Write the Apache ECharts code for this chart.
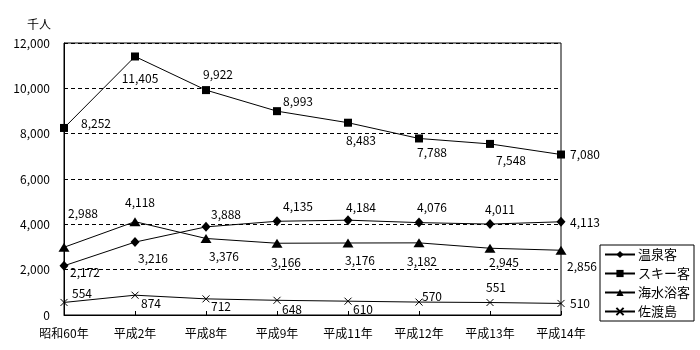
<!DOCTYPE html>
<html>
<head>
<meta charset="utf-8">
<script src="https://cdn.jsdelivr.net/npm/echarts@6/dist/echarts.min.js"></script>
<style>
  html, body { margin: 0; padding: 0; background: #fff; }
  #chart { width: 700px; height: 350px; }
</style>
</head>
<body>
<div id="chart"></div>
<script>
// 年別の観光客数（千人）
const categories = ['昭和60年', '平成2年', '平成8年', '平成9年', '平成11年', '平成12年', '平成13年', '平成14年'];
const onsen   = [2172, 3216, 3888, 4135, 4184, 4076, 4011, 4113];   // 温泉客
const ski     = [8252, 11405, 9922, 8993, 8483, 7788, 7548, 7080];  // スキー客
const kaisui  = [2988, 4118, 3376, 3166, 3176, 3182, 2945, 2856];   // 海水浴客
const sado    = [554, 874, 712, 648, 610, 570, 551, 510];           // 佐渡島
const yTicks  = [0, 2000, 4000, 6000, 8000, 10000, 12000];
const unitLabel = '千人';

// ラベルの位置調整（点の中心からのずれ, px）
const offOnsen  = [[21,7],[18,16],[20,-12],[21,-15],[13,-13],[13,-15],[10,-15],[24,1]];
const offSki    = [[32,-5],[5,22],[12,-16],[21,-10],[13,18],[13,14],[21,17],[24,0]];
const offKaisui = [[19,-34],[5,-19],[18,18],[9,19],[12,17],[3,19],[14,14],[21,16]];
const offSado   = [[18,-9],[16,8],[15,8],[15,9],[15,8],[13,-6],[6,-15],[19,0]];

const FONT = '"Noto Sans CJK JP", "DejaVu Sans", sans-serif';
const fmt = v => v.toLocaleString('en-US');

function withLabels(values, offsets) {
  return values.map((v, i) => ({
    value: v,
    label: { offset: offsets[i] }
  }));
}

function makeSeries(name, values, offsets, symbol, size, extra) {
  return Object.assign({
    name: name,
    type: 'line',
    data: withLabels(values, offsets),
    symbol: symbol,
    symbolSize: size,
    showAllSymbol: true,
    lineStyle: { color: '#000', width: 1 },
    itemStyle: { color: '#000' },
    emphasis: { disabled: true },
    animation: false,
    label: {
      show: true,
      position: 'inside',
      color: '#000',
      fontFamily: FONT,
      fontSize: 12,
      formatter: p => fmt(p.value)
    }
  }, extra || {});
}

const chart = echarts.init(document.getElementById('chart'), null, { renderer: 'canvas' });

chart.setOption({
  backgroundColor: '#fff',
  animation: false,
  grid: {
    left: 64, right: 139, top: 43, bottom: 35,
    show: true, borderColor: '#000', borderWidth: 1
  },
  graphic: [{
    type: 'text',
    left: 27, top: 18,
    style: { text: unitLabel, font: '12px ' + FONT, fill: '#000' }
  }],
  legend: {
    orient: 'vertical',
    left: 600, top: 245,
    width: 91,
    padding: [3, 4, 3, 4],
    borderColor: '#000', borderWidth: 1,
    itemWidth: 30, itemHeight: 9, itemGap: 6,
    textStyle: { fontFamily: FONT, fontSize: 13, color: '#000', padding: [0, 0, 0, -2] },
    data: ['温泉客', 'スキー客', '海水浴客', '佐渡島']
  },
  xAxis: {
    type: 'category',
    data: categories,
    boundaryGap: false,
    axisLine: { lineStyle: { color: '#000', width: 1 } },
    axisTick: { show: true, inside: true, length: 4, lineStyle: { color: '#000' } },
    axisLabel: { color: '#000', fontFamily: FONT, fontSize: 12, margin: 12 },
    splitLine: { show: false }
  },
  yAxis: {
    type: 'value',
    min: yTicks[0], max: yTicks[yTicks.length - 1], interval: 2000,
    axisLine: { show: true, lineStyle: { color: '#000', width: 1 } },
    axisTick: { show: false },
    axisLabel: {
      color: '#000', fontFamily: FONT, fontSize: 12, margin: 14,
      formatter: v => fmt(v)
    },
    splitLine: { show: true, lineStyle: { color: '#000', type: [4, 3], width: 1 } }
  },
  series: [
    makeSeries('温泉客', onsen, offOnsen, 'diamond', [9, 10]),
    makeSeries('スキー客', ski, offSki, 'rect', 8),
    makeSeries('海水浴客', kaisui, offKaisui, 'triangle', [11, 9]),
    makeSeries('佐渡島', sado, offSado, 'path://M0,0L10,10M10,0L0,10', 7, {
      itemStyle: { color: 'none', borderColor: '#000', borderWidth: 1 },
      lineStyle: { color: '#000', width: 1 }
    })
  ]
});
</script>
</body>
</html>
